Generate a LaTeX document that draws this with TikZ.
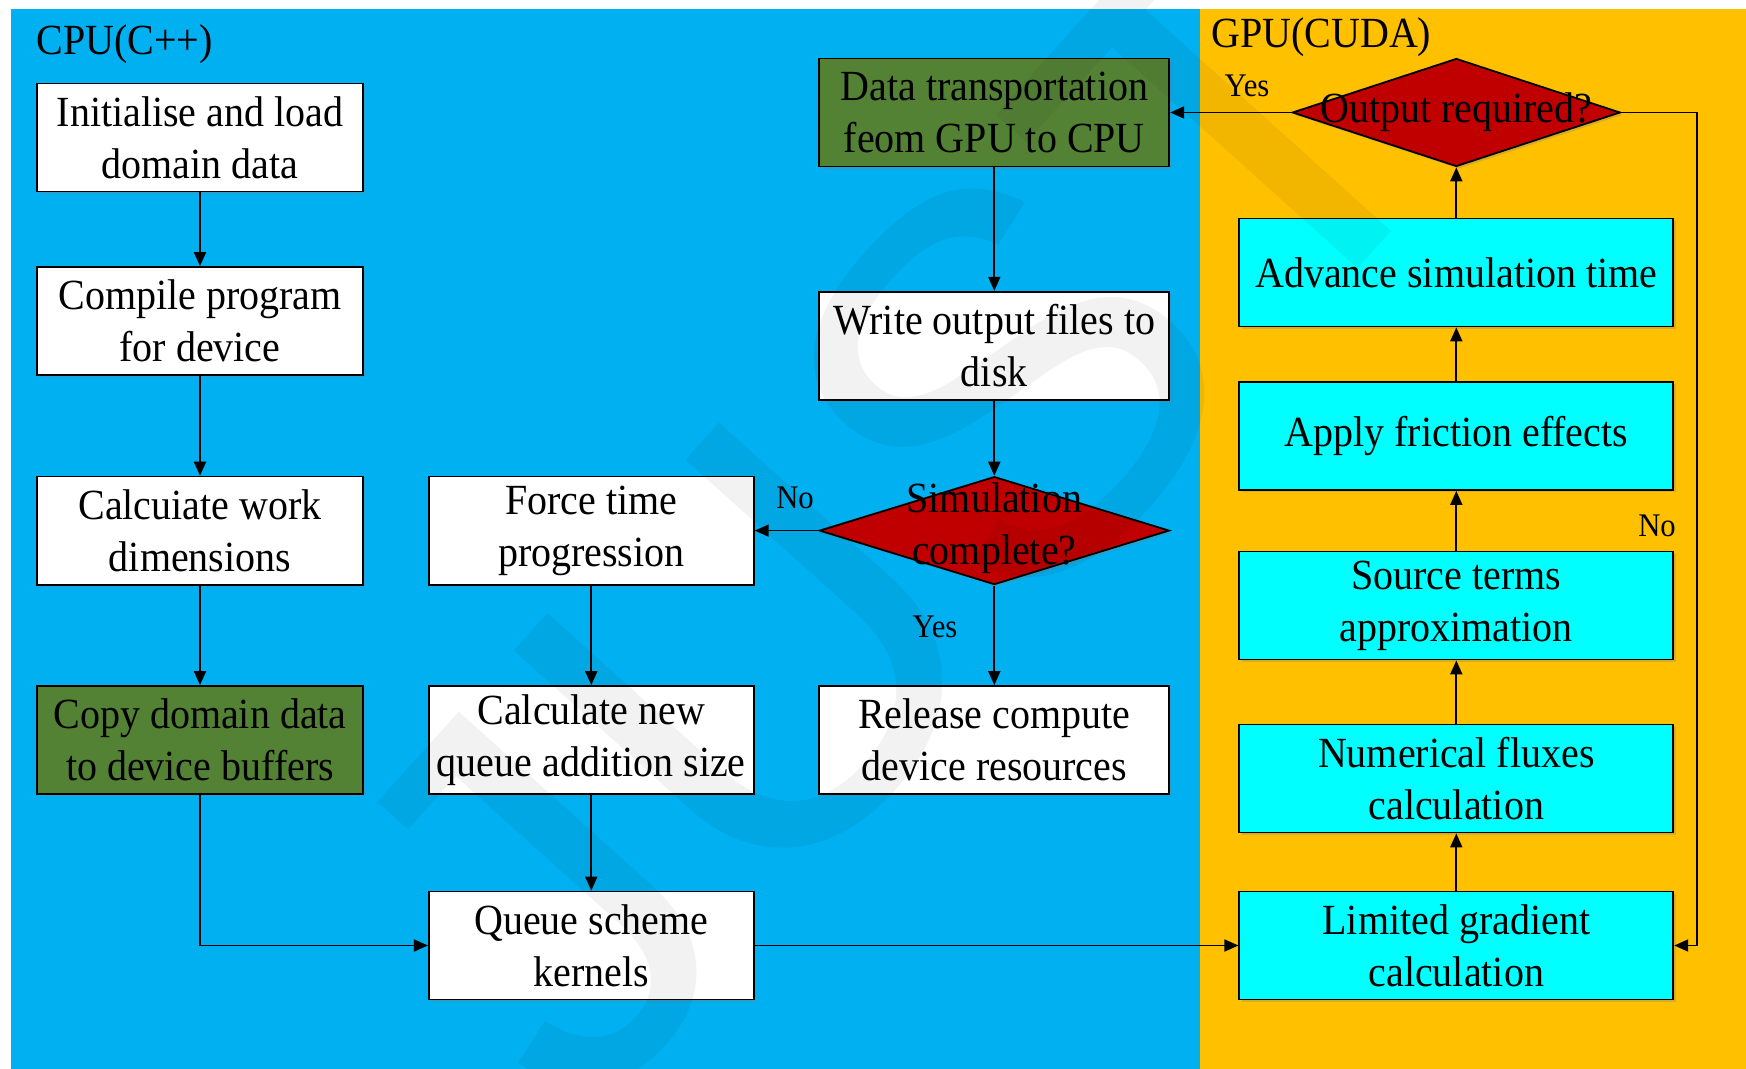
\documentclass[tikz,border=0pt]{standalone}
\usepackage{fontspec}
\setmainfont{Liberation Serif}[FakeStretch=0.93]
\newfontfamily\wmfont{Liberation Sans}
\usetikzlibrary{shapes.geometric,arrows.meta,shadows}

\definecolor{cpubg}{HTML}{00B0F0}
\definecolor{gpubg}{HTML}{FFC000}
\definecolor{xfercol}{HTML}{548235}
\definecolor{decidecol}{HTML}{C00000}
\definecolor{kernelcol}{HTML}{00FFFF}

\newcommand\mainsz{\fontsize{21.5pt}{26pt}\selectfont}
\newcommand\lblsz{\fontsize{16.5pt}{20pt}\selectfont}

\begin{document}
\begin{tikzpicture}[x=0.5pt,y=-0.5pt,
  procbox/.style={draw=black, line width=0.9pt, minimum height=54pt,
    inner sep=0pt, align=center, font=\mainsz,
    drop shadow={shadow xshift=1.2pt, shadow yshift=-1.2pt, opacity=0.3}},
  leftcol/.style={procbox, minimum width=163pt},
  midcol/.style={procbox, minimum width=162.5pt},
  rightcol/.style={procbox, minimum width=175pt},
  gpucol/.style={procbox, minimum width=217pt, fill=kernelcol},
  decision/.style={diamond, draw=black, line width=0.9pt, fill=decidecol,
    inner sep=0pt, minimum height=54pt,
    drop shadow={shadow xshift=1.2pt, shadow yshift=-1.2pt, opacity=0.3}},
  dtext/.style={align=center, font=\mainsz, inner sep=0pt},
  lbl/.style={font=\lblsz, inner sep=0pt},
  title/.style={font=\mainsz, inner sep=0pt, anchor=west},
  flow/.style={-{Triangle[length=7pt,width=6pt]}, line width=0.9pt}]

\useasboundingbox (0,0) rectangle (1746,1069);

% panels
\fill[white] (0,0) rectangle (1746,1069);
\fill[cpubg] (11,9) rectangle (1200,1069);
\fill[gpubg] (1200,9) rectangle (1746,1069);

\node[title] (cputitle) at (36,44) {CPU(C++)};
\node[title] (gputitle) at (1211,37) {GPU(CUDA)};

% CPU: set-up column
\node[leftcol, fill=white] (init) at (200,137.5) {Initialise and load\\domain data};
\node[leftcol, fill=white] (compile) at (200,321) {Compile program\\for device};
\node[leftcol, fill=white] (calcwork) at (200,530.6) {Calcuiate work\\dimensions};
\node[leftcol, fill=xfercol] (copy) at (200,740) {Copy domain data\\to device buffers};

% CPU: time-stepping column
\node[midcol, fill=white] (force) at (591.3,530.6) {Force time\\progression};
\node[midcol, fill=white] (calcnew) at (591.3,740) {Calculate new\\queue addition size};
\node[midcol, fill=white] (queue) at (591.3,945.5) {Queue scheme\\kernels};

% CPU: output column
\node[rightcol, fill=xfercol] (xfer) at (994.3,112.5) {Data transportation\\feom GPU to CPU};
\node[rightcol, fill=white] (write) at (994.3,345.7) {Write output files to\\disk};
\node[decision, minimum width=175pt] (simcomp) at (994.3,530.6) {};
\node[rightcol, fill=white] (release) at (994.3,740) {Release compute\\device resources};

% GPU kernels
\node[decision, minimum width=164pt] (outreq) at (1456.3,112.5) {};
\node[gpucol] (advance) at (1456.3,272.5) {Advance simulation time};
\node[gpucol] (friction) at (1456.3,436) {Apply friction effects};
\node[gpucol] (source) at (1456.3,605.5) {Source terms\\approximation};
\node[gpucol] (fluxes) at (1456.3,778.5) {Numerical fluxes\\calculation};
\node[gpucol] (limited) at (1456.3,945.5) {Limited gradient\\calculation};

\coordinate (loopR) at (1697,112.5);

% connectors
\draw[flow] (init) -- (compile);
\draw[flow] (compile) -- (calcwork);
\draw[flow] (calcwork) -- (copy);
\draw[flow] (copy.south) |- (queue.west);
\draw[flow] (force) -- (calcnew);
\draw[flow] (calcnew) -- (queue);
\draw[flow] (queue) -- (limited);
\draw[flow] (limited) -- (fluxes);
\draw[flow] (fluxes) -- (source);
\draw[flow] (source) -- (friction);
\draw[flow] (friction) -- (advance);
\draw[flow] (advance) -- (outreq);
\draw[flow] (outreq.west) -- (xfer.east);
\draw[flow] (outreq.east) -- (loopR) |- (limited.east);
\draw[flow] (xfer) -- (write);
\draw[flow] (write) -- (simcomp);
\draw[flow] (simcomp) -- (release);
\draw[flow] (simcomp.west) -- (force.east);

% decision texts
\node[dtext] (outreqtext) at (outreq.center) {Output required?};
\node[dtext] (simcomptext) at (994.3,528) {Simulation\\complete?};

% branch labels
\node[lbl] (yesout) at (1247,86) {Yes};
\node[lbl] (noout) at (1657,525.5) {No};
\node[lbl] (nosim) at (795,498) {No};
\node[lbl] (yessim) at (935,627) {Yes};

% watermark, kept inside the page
\begin{scope}
  \clip (0,0) rectangle (1746,1069);
  \node[font=\wmfont\fontsize{270pt}{270pt}\selectfont, rotate=48,
        text=black, opacity=0.05, inner sep=0pt] (wm) at (895,505) {JUST};
\end{scope}
\end{tikzpicture}
\end{document}
